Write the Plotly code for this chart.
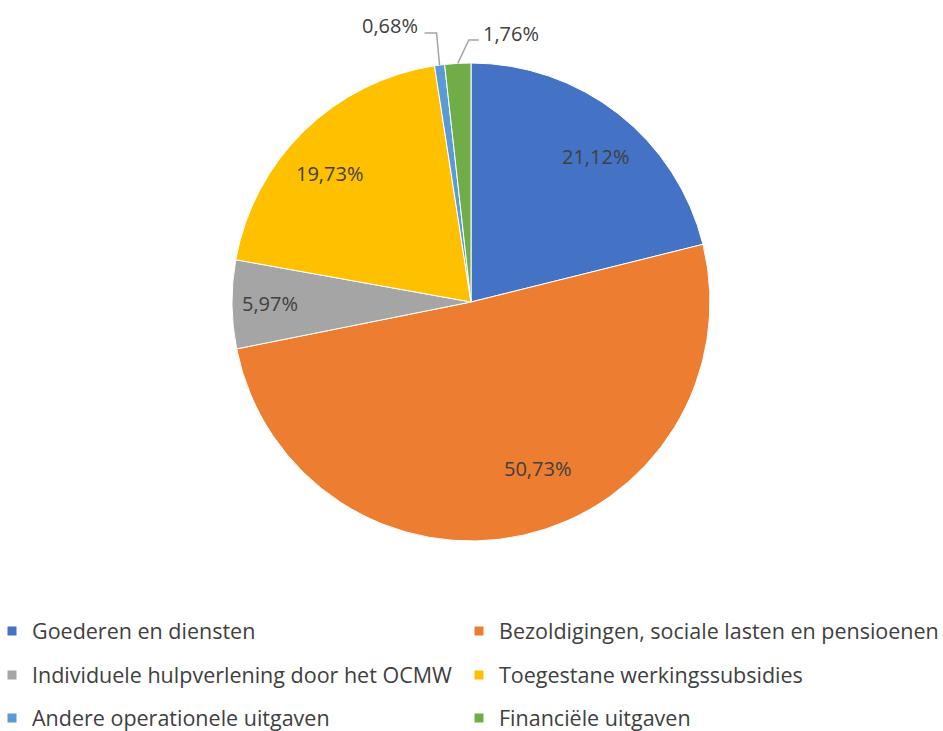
import math
import plotly.graph_objects as go

categories = [
    "Goederen en diensten",
    "Bezoldigingen, sociale lasten en pensioenen",
    "Individuele hulpverlening door het OCMW",
    "Toegestane werkingssubsidies",
    "Andere operationele uitgaven",
    "Financiële uitgaven",
]
values = [21.12, 50.73, 5.97, 19.73, 0.68, 1.76]
colors = ["#4472C4", "#ED7D31", "#A5A5A5", "#FFC000", "#5B9BD5", "#70AD47"]

FONT = "Open Sans"
W, H = 943, 731
CX, CY, R = 471, 302, 239  # pie centre / radius in pixels
TEXT_COLOR = "#404040"
# small pixel nudges for inside labels (best-fit placement)
LABEL_NUDGE = [(5, 7), (24, -22), (-7, 0), (-6, 10), (0, 0), (0, 0)]

fig = go.Figure()
fig.add_trace(go.Pie(
    labels=categories,
    values=values,
    sort=False,
    direction="clockwise",
    rotation=0,
    marker=dict(colors=colors, line=dict(color="white", width=1)),
    textinfo="none",
    showlegend=False,
    domain=dict(x=[(CX - R) / W, (CX + R) / W], y=[1 - (CY + R) / H, 1 - (CY - R) / H]),
    hoverinfo="label+value",
))

# data labels placed along each slice's mid angle
total = sum(values)
cum = 0.0
annotations = []
shapes = []
for i, v in enumerate(values):
    mid = (cum + v / 2) / total * 2 * math.pi
    cum += v
    txt = f"{v:.2f}%".replace(".", ",")
    sx, sy = math.sin(mid), -math.cos(mid)
    if v >= 3:
        dx, dy = LABEL_NUDGE[i]
        px, py = CX + 0.81 * R * sx + dx, CY + 0.81 * R * sy + dy
        annotations.append(dict(x=px / W, y=1 - py / H, xref="paper", yref="paper",
                                text=txt, showarrow=False, xanchor="center", yanchor="middle",
                                font=dict(family=FONT, size=20, color=TEXT_COLOR)))
    else:
        rx, ry = CX + R * sx, CY + R * sy  # rim point
        if sx < -0.1:
            ex, ey = rx - 3, 33
            tx, ty = ex - 12, 33
            anchor = "right"
            lx, lyy = tx - 5, 26
        else:
            ex, ey = rx + 11, 40
            tx, ty = ex + 10, 40
            anchor = "left"
            lx, lyy = tx + 2, 34
        shapes.append(dict(type="path", xref="paper", yref="paper",
                           path=f"M {rx / W},{1 - ry / H} L {ex / W},{1 - ey / H} L {tx / W},{1 - ty / H}",
                           line=dict(color="#A5A5A5", width=1.5)))
        annotations.append(dict(x=lx / W, y=1 - lyy / H, xref="paper", yref="paper",
                                text=txt, showarrow=False, xanchor=anchor, yanchor="middle",
                                font=dict(family=FONT, size=20, color=TEXT_COLOR)))

# legend entries: two columns, three rows, one legend box per entry
col_x = [-8 / W, 459 / W]
row_y = [1 - 631 / H, 1 - 675 / H, 1 - 718 / H]
legend_layout = {}
for i, (cat, col) in enumerate(zip(categories, colors)):
    lname = "legend" if i == 0 else f"legend{i + 1}"
    fig.add_trace(go.Scatter(
        x=[None], y=[None], mode="markers",
        marker=dict(symbol="square", size=9, color=col),
        name=cat, legend=lname, showlegend=True,
    ))
    legend_layout[lname] = dict(
        orientation="h", xanchor="left", yanchor="middle",
        x=col_x[i % 2], y=row_y[i // 2],
        font=dict(family=FONT, size=21.5, color=TEXT_COLOR),
        bgcolor="rgba(0,0,0,0)", itemwidth=30,
    )

fig.update_layout(
    width=W, height=H,
    margin=dict(l=0, r=0, t=0, b=0, autoexpand=False),
    paper_bgcolor="white", plot_bgcolor="white",
    separators=",.",
    xaxis=dict(visible=False), yaxis=dict(visible=False),
    annotations=annotations,
    shapes=shapes,
    **legend_layout,
)

fig.write_html("out.html", config={"displayModeBar": False},
               post_script="document.body.style.margin='0';")
